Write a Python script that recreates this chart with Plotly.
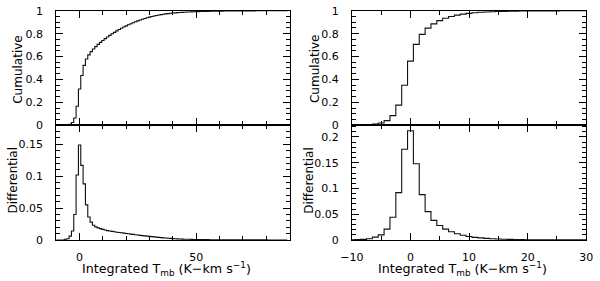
import numpy as np
import plotly.graph_objects as go

# ---------------- data (bin centres, fraction per bin) ----------------
left_centers = list(range(-10, 90))
left_diff = [
    0, 0, 0, 0,
    0.001, 0.002, 0.006, 0.014, 0.040, 0.102, 0.149, 0.117, 0.088, 0.055, 0.036, 0.028, 0.023,
    0.0205, 0.019, 0.0177, 0.0166, 0.0156, 0.0146,
    0.014, 0.0134, 0.0128, 0.0122, 0.0117, 0.0112, 0.0107, 0.0102,
    0.0097, 0.0092, 0.0087, 0.0082, 0.0077, 0.0072, 0.0068, 0.0064, 0.006, 0.0056,
    0.0052, 0.0048, 0.0044, 0.004, 0.0036, 0.0033, 0.003, 0.0027, 0.0024, 0.0021,
    0.0019, 0.0017, 0.0015, 0.0013, 0.0012, 0.0011, 0.001, 0.0009, 0.0008, 0.0007,
    0.0007, 0.0006, 0.0006, 0.0005, 0.0005, 0.0004, 0.0004, 0.0004, 0.0003, 0.0003,
    0.0003, 0.0003, 0.0003, 0.0002, 0.0002, 0.0002, 0.0002, 0.0002, 0.0001, 0.0001,
    0.0001, 0.0001, 0.0001, 0.0001, 0.0001, 0.0001, 0.0001, 0.0001, 0.0001, 0.0001,
    0, 0, 0, 0, 0, 0, 0, 0, 0,
]

right_centers = list(range(-10, 31))
right_diff = [
    0.0003, 0.0006, 0.0012, 0.0024, 0.0055, 0.0098, 0.021, 0.044, 0.092, 0.176,
    0.212,
    0.148, 0.088, 0.055, 0.038, 0.028, 0.021, 0.016, 0.012, 0.009, 0.0067,
    0.005, 0.004, 0.003, 0.0023, 0.0018, 0.0014, 0.0011, 0.0009, 0.0007, 0.0005,
    0.0004, 0.0003, 0.0003, 0.0002, 0.0002, 0.0001, 0.0001, 0.0001, 0.0001, 0.0001,
]

left_cum = np.cumsum(left_diff) / np.sum(left_diff)
right_cum = np.cumsum(right_diff) / np.sum(right_diff)

# ---------------- figure ----------------
W, H = 600, 281
def px_x(p): return p / W
def px_y(p): return 1 - p / H

xl = [px_x(45.7), px_x(286.7)]
xr = [px_x(351), px_x(593)]
yt = [px_y(125), px_y(5)]
yb = [px_y(245.3), px_y(125)]

line = dict(color="#111111", width=1.1, shape="hvh")
fig = go.Figure()
fig.add_trace(go.Scatter(x=left_centers, y=left_cum, mode="lines", line=line, xaxis="x", yaxis="y", showlegend=False))
fig.add_trace(go.Scatter(x=left_centers, y=left_diff, mode="lines", line=line, xaxis="x2", yaxis="y2", showlegend=False))
fig.add_trace(go.Scatter(x=right_centers, y=right_cum, mode="lines", line=line, xaxis="x3", yaxis="y3", showlegend=False))
fig.add_trace(go.Scatter(x=right_centers, y=right_diff, mode="lines", line=line, xaxis="x4", yaxis="y4", showlegend=False))

tickfont = dict(family="DejaVu Sans", size=11, color="black")

def ax(domain, anchor, rng, dtick, mdtick, labels, standoff, tick0=0):
    return dict(domain=domain, anchor=anchor, range=rng, showline=True, linecolor="black", linewidth=1,
                mirror="allticks", ticks="inside", ticklen=7, tickwidth=1, tickcolor="black",
                tick0=tick0, dtick=dtick, showgrid=False, zeroline=False, showticklabels=labels,
                tickfont=tickfont, ticklabeloverflow="allow", ticklabelstandoff=standoff,
                minor=dict(dtick=mdtick, tick0=tick0, ticks="inside", ticklen=4, tickwidth=1,
                           tickcolor="black", showgrid=False))

fig.update_layout(
    width=W, height=H, margin=dict(l=0, r=0, t=0, b=0),
    paper_bgcolor="white", plot_bgcolor="white",
    xaxis=ax(xl, "y", [-10, 90], 50, 10, False, 0),
    yaxis=ax(yt, "x", [0, 1], 0.2, 0.05, True, 10),
    xaxis2=ax(xl, "y2", [-10, 90], 50, 10, True, 7),
    yaxis2=ax(yb, "x2", [0, 0.18], 0.05, 0.01, True, 10),
    xaxis3=ax(xr, "y3", [-10, 30], 10, 5, False, 0),
    yaxis3=ax(yt, "x3", [0, 1], 0.2, 0.05, True, 10),
    xaxis4=ax(xr, "y4", [-10, 30], 10, 5, True, 7),
    yaxis4=ax(yb, "x4", [0, 0.2228], 0.05, 0.01, True, 10),
)

tfont = dict(family="DejaVu Sans", size=12, color="black")
xfont = dict(family="DejaVu Sans", size=12.7, color="black")
xtitle = "Integrated T<sub>mb</sub> (K\u2212km s<sup>\u22121</sup>)"
annots = [
    dict(text="Cumulative", x=px_x(6), y=px_y(66), textangle=-90, font=tfont),
    dict(text="Differential", x=px_x(1), y=px_y(182), textangle=-90, font=tfont),
    dict(text="Cumulative", x=px_x(313), y=px_y(66), textangle=-90, font=tfont),
    dict(text="Differential", x=px_x(306), y=px_y(183), textangle=-90, font=tfont),
    dict(text=xtitle, x=px_x(160), y=px_y(276), textangle=0, font=xfont),
    dict(text=xtitle, x=px_x(465), y=px_y(276), textangle=0, font=xfont),
]
for a in annots:
    fig.add_annotation(xref="paper", yref="paper", showarrow=False, xanchor="center", yanchor="middle", **a)

fig.write_html("out.html", config={"displayModeBar": False},
               post_script="document.body.style.margin='0px';")
